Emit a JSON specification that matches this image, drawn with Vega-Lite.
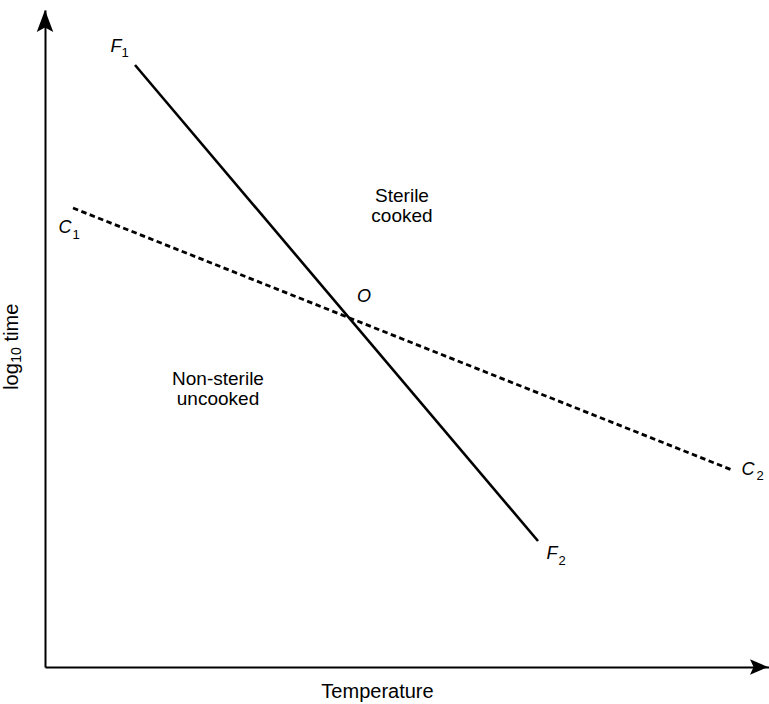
{
  "$schema": "https://vega.github.io/schema/vega-lite/v6.json",
  "width": 724,
  "height": 657,
  "autosize": {"type": "none"},
  "padding": {"left": 45, "top": 10, "right": 0, "bottom": 37},
  "background": "white",
  "config": {"view": {"stroke": null}, "font": "Liberation Sans"},
  "datasets": {
    "lines": [
      {"line": "F", "x": 90, "y": 602},
      {"line": "F", "x": 493, "y": 126},
      {"line": "C", "x": 28, "y": 459},
      {"line": "C", "x": 687, "y": 197}
    ],
    "letters": [
      {"t": "F", "x": 71, "y": 620},
      {"t": "C", "x": 20, "y": 439},
      {"t": "O", "x": 319, "y": 370},
      {"t": "F", "x": 507, "y": 113},
      {"t": "C", "x": 703, "y": 197}
    ],
    "subs": [
      {"t": "1", "x": 80, "y": 614},
      {"t": "1", "x": 31, "y": 432},
      {"t": "2", "x": 517, "y": 106},
      {"t": "2", "x": 715, "y": 191}
    ],
    "regions": [
      {"t": "Sterile", "x": 357, "y": 465},
      {"t": "cooked", "x": 357, "y": 445},
      {"t": "Non-sterile", "x": 173, "y": 282},
      {"t": "uncooked", "x": 173, "y": 262}
    ],
    "ytitle": [
      {"t": "log", "x": -33, "y": 290.5},
      {"t": "time", "x": -33, "y": 344.5}
    ],
    "ytitlesub": [
      {"t": "10", "x": -28, "y": 312}
    ]
  },
  "encoding": {
    "x": {
      "type": "quantitative",
      "scale": {"domain": [0, 724], "nice": false, "zero": false},
      "axis": {
        "title": "Temperature", "labels": false, "ticks": false, "grid": false,
        "domainColor": "black", "domainWidth": 2,
        "titleFont": "Liberation Sans", "titleFontSize": 20, "titleFontWeight": "normal", "titleColor": "black",
        "titleX": 332, "titleY": 30, "titleBaseline": "alphabetic", "titleAlign": "center"
      }
    },
    "y": {
      "type": "quantitative",
      "scale": {"domain": [0, 657], "nice": false, "zero": false},
      "axis": {
        "title": null, "labels": false, "ticks": false, "grid": false,
        "domainColor": "black", "domainWidth": 2
      }
    }
  },
  "layer": [
    {
      "data": {"name": "lines"},
      "transform": [{"filter": "datum.line === 'F'"}],
      "mark": {"type": "line", "color": "black", "strokeWidth": 2.6},
      "encoding": {"x": {"field": "x"}, "y": {"field": "y"}}
    },
    {
      "data": {"name": "lines"},
      "transform": [{"filter": "datum.line === 'C'"}],
      "mark": {"type": "line", "color": "black", "strokeWidth": 2.8, "strokeDash": [5.5, 3.5]},
      "encoding": {"x": {"field": "x"}, "y": {"field": "y"}}
    },
    {
      "data": {"name": "letters"},
      "mark": {"type": "text", "font": "Liberation Sans", "fontSize": 18, "fontStyle": "italic", "baseline": "middle", "align": "center", "color": "black"},
      "encoding": {"x": {"field": "x"}, "y": {"field": "y"}, "text": {"field": "t"}}
    },
    {
      "data": {"name": "subs"},
      "mark": {"type": "text", "font": "Liberation Sans", "fontSize": 13, "baseline": "middle", "align": "center", "color": "black"},
      "encoding": {"x": {"field": "x"}, "y": {"field": "y"}, "text": {"field": "t"}}
    },
    {
      "data": {"name": "regions"},
      "mark": {"type": "text", "font": "Liberation Sans", "fontSize": 19, "baseline": "alphabetic", "align": "center", "color": "black"},
      "encoding": {"x": {"field": "x"}, "y": {"field": "y"}, "text": {"field": "t"}}
    },
    {
      "data": {"name": "ytitle"},
      "mark": {"type": "text", "font": "Liberation Sans", "fontSize": 20, "angle": 270, "baseline": "middle", "align": "center", "color": "black"},
      "encoding": {"x": {"field": "x"}, "y": {"field": "y"}, "text": {"field": "t"}}
    },
    {
      "data": {"name": "ytitlesub"},
      "mark": {"type": "text", "font": "Liberation Sans", "fontSize": 14, "angle": 270, "baseline": "middle", "align": "center", "color": "black"},
      "encoding": {"x": {"field": "x"}, "y": {"field": "y"}, "text": {"field": "t"}}
    },
    {
      "data": {"values": [{}]},
      "mark": {"type": "point", "shape": "M0,-1L0.75,1L0,0.6L-0.75,1Z", "size": 484, "filled": true, "color": "black", "opacity": 1},
      "encoding": {"x": {"datum": 0}, "y": {"datum": 646}}
    },
    {
      "data": {"values": [{}]},
      "mark": {"type": "point", "shape": "M1,0L-1,0.85L-0.6,0L-1,-0.85Z", "size": 324, "filled": true, "color": "black", "opacity": 1},
      "encoding": {"x": {"datum": 714}, "y": {"datum": 0}}
    }
  ]
}
